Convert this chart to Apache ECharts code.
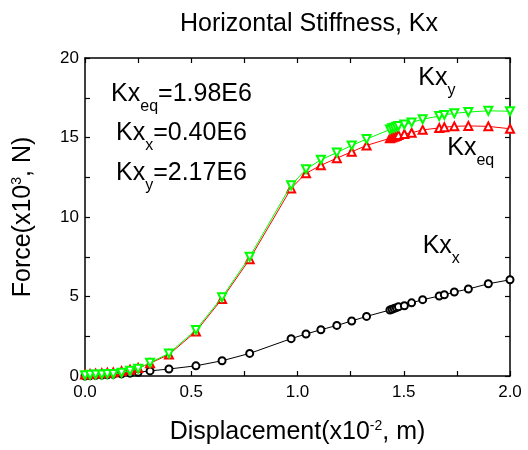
<!DOCTYPE html>
<html>
<head>
<meta charset="utf-8">
<script src="https://cdn.jsdelivr.net/npm/echarts@6/dist/echarts.min.js"></script>
<style>html,body{margin:0;padding:0;background:#fff;}#c{width:528px;height:450px;}</style>
</head>
<body>
<div id="c"></div>
<script>
// Displacement (x10^-2 m)
const disp = [0, 0.024, 0.05, 0.079, 0.105, 0.133, 0.172, 0.212, 0.25, 0.306, 0.395, 0.522, 0.645, 0.775, 0.97, 1.04, 1.11, 1.185, 1.255, 1.325, 1.435, 1.445, 1.455, 1.465, 1.475, 1.503, 1.537, 1.589, 1.667, 1.691, 1.738, 1.804, 1.898, 2.0];
// Force (x10^3 N)
const kxX = [0, 0.02, 0.04, 0.06, 0.08, 0.1, 0.13, 0.18, 0.23, 0.32, 0.44, 0.64, 0.96, 1.42, 2.35, 2.64, 2.91, 3.18, 3.46, 3.75, 4.15, 4.2, 4.25, 4.3, 4.35, 4.42, 4.6, 4.8, 5.03, 5.11, 5.28, 5.47, 5.8, 6.05];
const kxEq = [0.1, 0.12, 0.15, 0.18, 0.2, 0.22, 0.3, 0.4, 0.5, 0.8, 1.35, 2.8, 4.85, 7.35, 11.8, 12.75, 13.25, 13.7, 14.1, 14.5, 14.95, 15.0, 15.05, 15.1, 15.15, 15.22, 15.3, 15.48, 15.6, 15.65, 15.7, 15.73, 15.7, 15.55];
const kxY = [0.05, 0.08, 0.1, 0.1, 0.12, 0.13, 0.2, 0.33, 0.45, 0.84, 1.42, 2.9, 4.95, 7.5, 12.0, 13.0, 13.6, 14.05, 14.5, 14.9, 15.5, 15.58, 15.62, 15.68, 15.72, 15.82, 15.95, 16.15, 16.35, 16.42, 16.52, 16.6, 16.68, 16.65];
const xTicks = {min: 0, max: 2, interval: 0.5};
const yTicks = {min: 0, max: 20, interval: 5};
const titleText = 'Horizontal Stiffness, Kx';
const annotations = [
  {base: 'Kx', sub: 'eq', rest: '=1.98E6'},
  {base: 'Kx', sub: 'x', rest: '=0.40E6'},
  {base: 'Kx', sub: 'y', rest: '=2.17E6'}
];
const curveLabels = [
  {base: 'Kx', sub: 'y'},
  {base: 'Kx', sub: 'eq'},
  {base: 'Kx', sub: 'x'}
];

const FONT = "'Liberation Sans', Arial, sans-serif";
const pairs = ys => disp.map((x, i) => [x, ys[i]]);
const richSub = {
  m: {fontSize: 25, fontFamily: FONT, color: '#000', lineHeight: 28},
  s: {fontSize: 16, fontFamily: FONT, color: '#000', lineHeight: 16, padding: [24, 0, 0, 0]}
};
const richName = {
  m: {fontSize: 25, fontFamily: FONT, color: '#000', lineHeight: 28},
  p: {fontSize: 14, fontFamily: FONT, color: '#000', lineHeight: 14, padding: [0, 0, 12, 0]}
};

function axisCommon(extra) {
  return Object.assign({
    type: 'value',
    axisLine: {show: true, onZero: false, lineStyle: {color: '#000', width: 1.5}},
    axisTick: {show: true, inside: true, length: 5, lineStyle: {color: '#000', width: 1.2}},
    minorTick: {show: true, splitNumber: 2, length: 5, lineStyle: {color: '#000', width: 1.2}},
    splitLine: {show: false},
    minorSplitLine: {show: false}
  }, extra);
}

const annGraphics = annotations.map((a, i) => ({
  type: 'text',
  x: 181.5,
  y: [94.3, 133.3, 173.3][i],
  style: {
    text: '{m|' + a.base + '}{s|' + a.sub + '}{m|' + a.rest + '}',
    rich: richSub,
    align: 'center',
    verticalAlign: 'middle'
  }
}));
const curveGraphics = curveLabels.map((a, i) => ({
  type: 'text',
  x: [418.3, 447.3, 422.7][i],
  y: [78.3, 148.3, 246.6][i],
  style: {
    text: '{m|' + a.base + '}{s|' + a.sub + '}',
    rich: richSub,
    align: 'left',
    verticalAlign: 'middle'
  }
}));

const chart = echarts.init(document.getElementById('c'), null, {renderer: 'canvas'});
chart.setOption({
  animation: false,
  backgroundColor: '#fff',
  title: {
    text: titleText,
    left: 304,
    top: 7,
    textAlign: 'center',
    textStyle: {fontFamily: FONT, fontSize: 25, fontWeight: 'normal', color: '#000'}
  },
  grid: {left: 85, right: 18, top: 58, bottom: 73, containLabel: false},
  xAxis: [
    axisCommon({
      position: 'bottom', min: xTicks.min, max: xTicks.max, interval: xTicks.interval,
      axisLabel: {show: true, color: '#000', fontSize: 17, fontFamily: FONT, margin: 8,
        formatter: v => v.toFixed(1)},
      name: '{m|Displacement(x10}{p|-2}{m|, m)}',
      nameLocation: 'middle', nameGap: 42,
      nameTextStyle: {rich: richName}
    }),
    axisCommon({
      position: 'top', min: xTicks.min, max: xTicks.max, interval: xTicks.interval,
      axisLabel: {show: false}
    })
  ],
  yAxis: [
    axisCommon({
      position: 'left', min: yTicks.min, max: yTicks.max, interval: yTicks.interval,
      axisLabel: {show: true, color: '#000', fontSize: 17, fontFamily: FONT, margin: 6},
      name: '{m|Force(x10}{p|3}{m|, N)}',
      nameLocation: 'middle', nameGap: 48, nameRotate: 90,
      nameTextStyle: {rich: richName}
    }),
    axisCommon({
      position: 'right', min: yTicks.min, max: yTicks.max, interval: yTicks.interval,
      axisLabel: {show: false}
    })
  ],
  series: [
    {
      name: 'Kx_x', type: 'line', data: pairs(kxX),
      symbol: 'emptyCircle', symbolSize: 7,
      lineStyle: {color: '#000', width: 1},
      itemStyle: {color: '#000', borderWidth: 1},
      z: 2
    },
    {
      name: 'Kx_eq', type: 'line', data: pairs(kxEq),
      symbol: 'emptyTriangle', symbolSize: 8,
      lineStyle: {color: '#ff0000', width: 1},
      itemStyle: {color: '#ff0000', borderWidth: 1},
      z: 3
    },
    {
      name: 'Kx_y', type: 'line', data: pairs(kxY),
      symbol: 'emptyTriangle', symbolSize: 8, symbolRotate: 180,
      lineStyle: {color: '#00ff00', width: 1},
      itemStyle: {color: '#00ff00', borderWidth: 1},
      z: 4
    }
  ],
  graphic: annGraphics.concat(curveGraphics)
});
</script>
</body>
</html>
